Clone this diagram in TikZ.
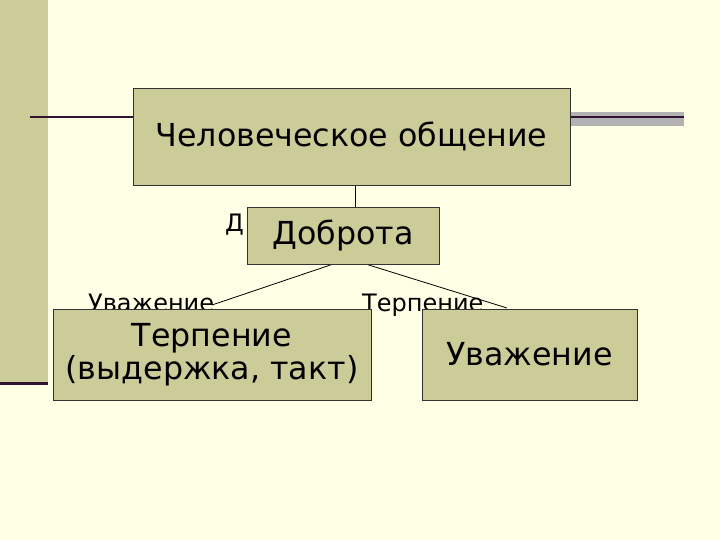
\documentclass[tikz,border=0pt]{standalone}
\usepackage{fontspec}
\setmainfont{DejaVu Sans}
\definecolor{bgc}{RGB}{255,255,229}
\definecolor{khaki}{RGB}{204,204,153}
\definecolor{darkp}{RGB}{51,17,51}
\definecolor{bandc}{RGB}{178,178,178}
\pgfdeclarelayer{bgfill}
\pgfdeclarelayer{back}
\pgfsetlayers{bgfill,back,main}
\tikzset{
  box/.style={draw=black!80, line width=0.9pt, fill=khaki, rectangle, inner sep=0pt, align=center,
    font=\fontsize{31.7}{33}\selectfont},
  lbl/.style={inner sep=0pt, anchor=base west, font=\fontsize{24}{28}\selectfont},
  conn/.style={draw=black, line width=0.8pt}
}
\begin{document}
\begin{tikzpicture}[x=1pt,y=-1pt]
\useasboundingbox (0,0) rectangle (720,540);
\begin{pgfonlayer}{bgfill}
\fill[bgc] (0,0) rectangle (720,540);
\fill[khaki] (0,0) rectangle (47.5,383);
\fill[darkp] (0,381.5) rectangle (47.5,385);
\fill[bandc] (560,112) rectangle (684,126);
\draw[darkp, line width=2pt] (30,117) -- (684,117);
\end{pgfonlayer}

\node[box, minimum width=437, minimum height=97] (b1) at (351.5,136.5) {Человеческое общение};
\node[box, minimum width=192, minimum height=57] (dob) at (343,235.5) {Доброта};
\node[box, minimum width=318, minimum height=91] (ter) at (212,354.5) {Терпение\\(выдержка, такт)};
\node[box, minimum width=215, minimum height=91] (uva) at (529.5,354.5) {Уважение};

\begin{pgfonlayer}{back}
\node[lbl] (ld) at (225,232) {Д};
\node[lbl] (lu) at (88,311) {Уважение};
\node[lbl] (lt) at (362,311) {Терпение};
\coordinate (eu) at (212,305);
\coordinate (et) at (507,308);
\draw[conn] ([xshift=3.5pt]b1.south) -- ([xshift=12pt]dob.north);
\draw[conn] ([xshift=-11pt]dob.south) -- (eu);
\draw[conn] ([xshift=24pt]dob.south) -- (et);
\end{pgfonlayer}
\end{tikzpicture}
\end{document}
